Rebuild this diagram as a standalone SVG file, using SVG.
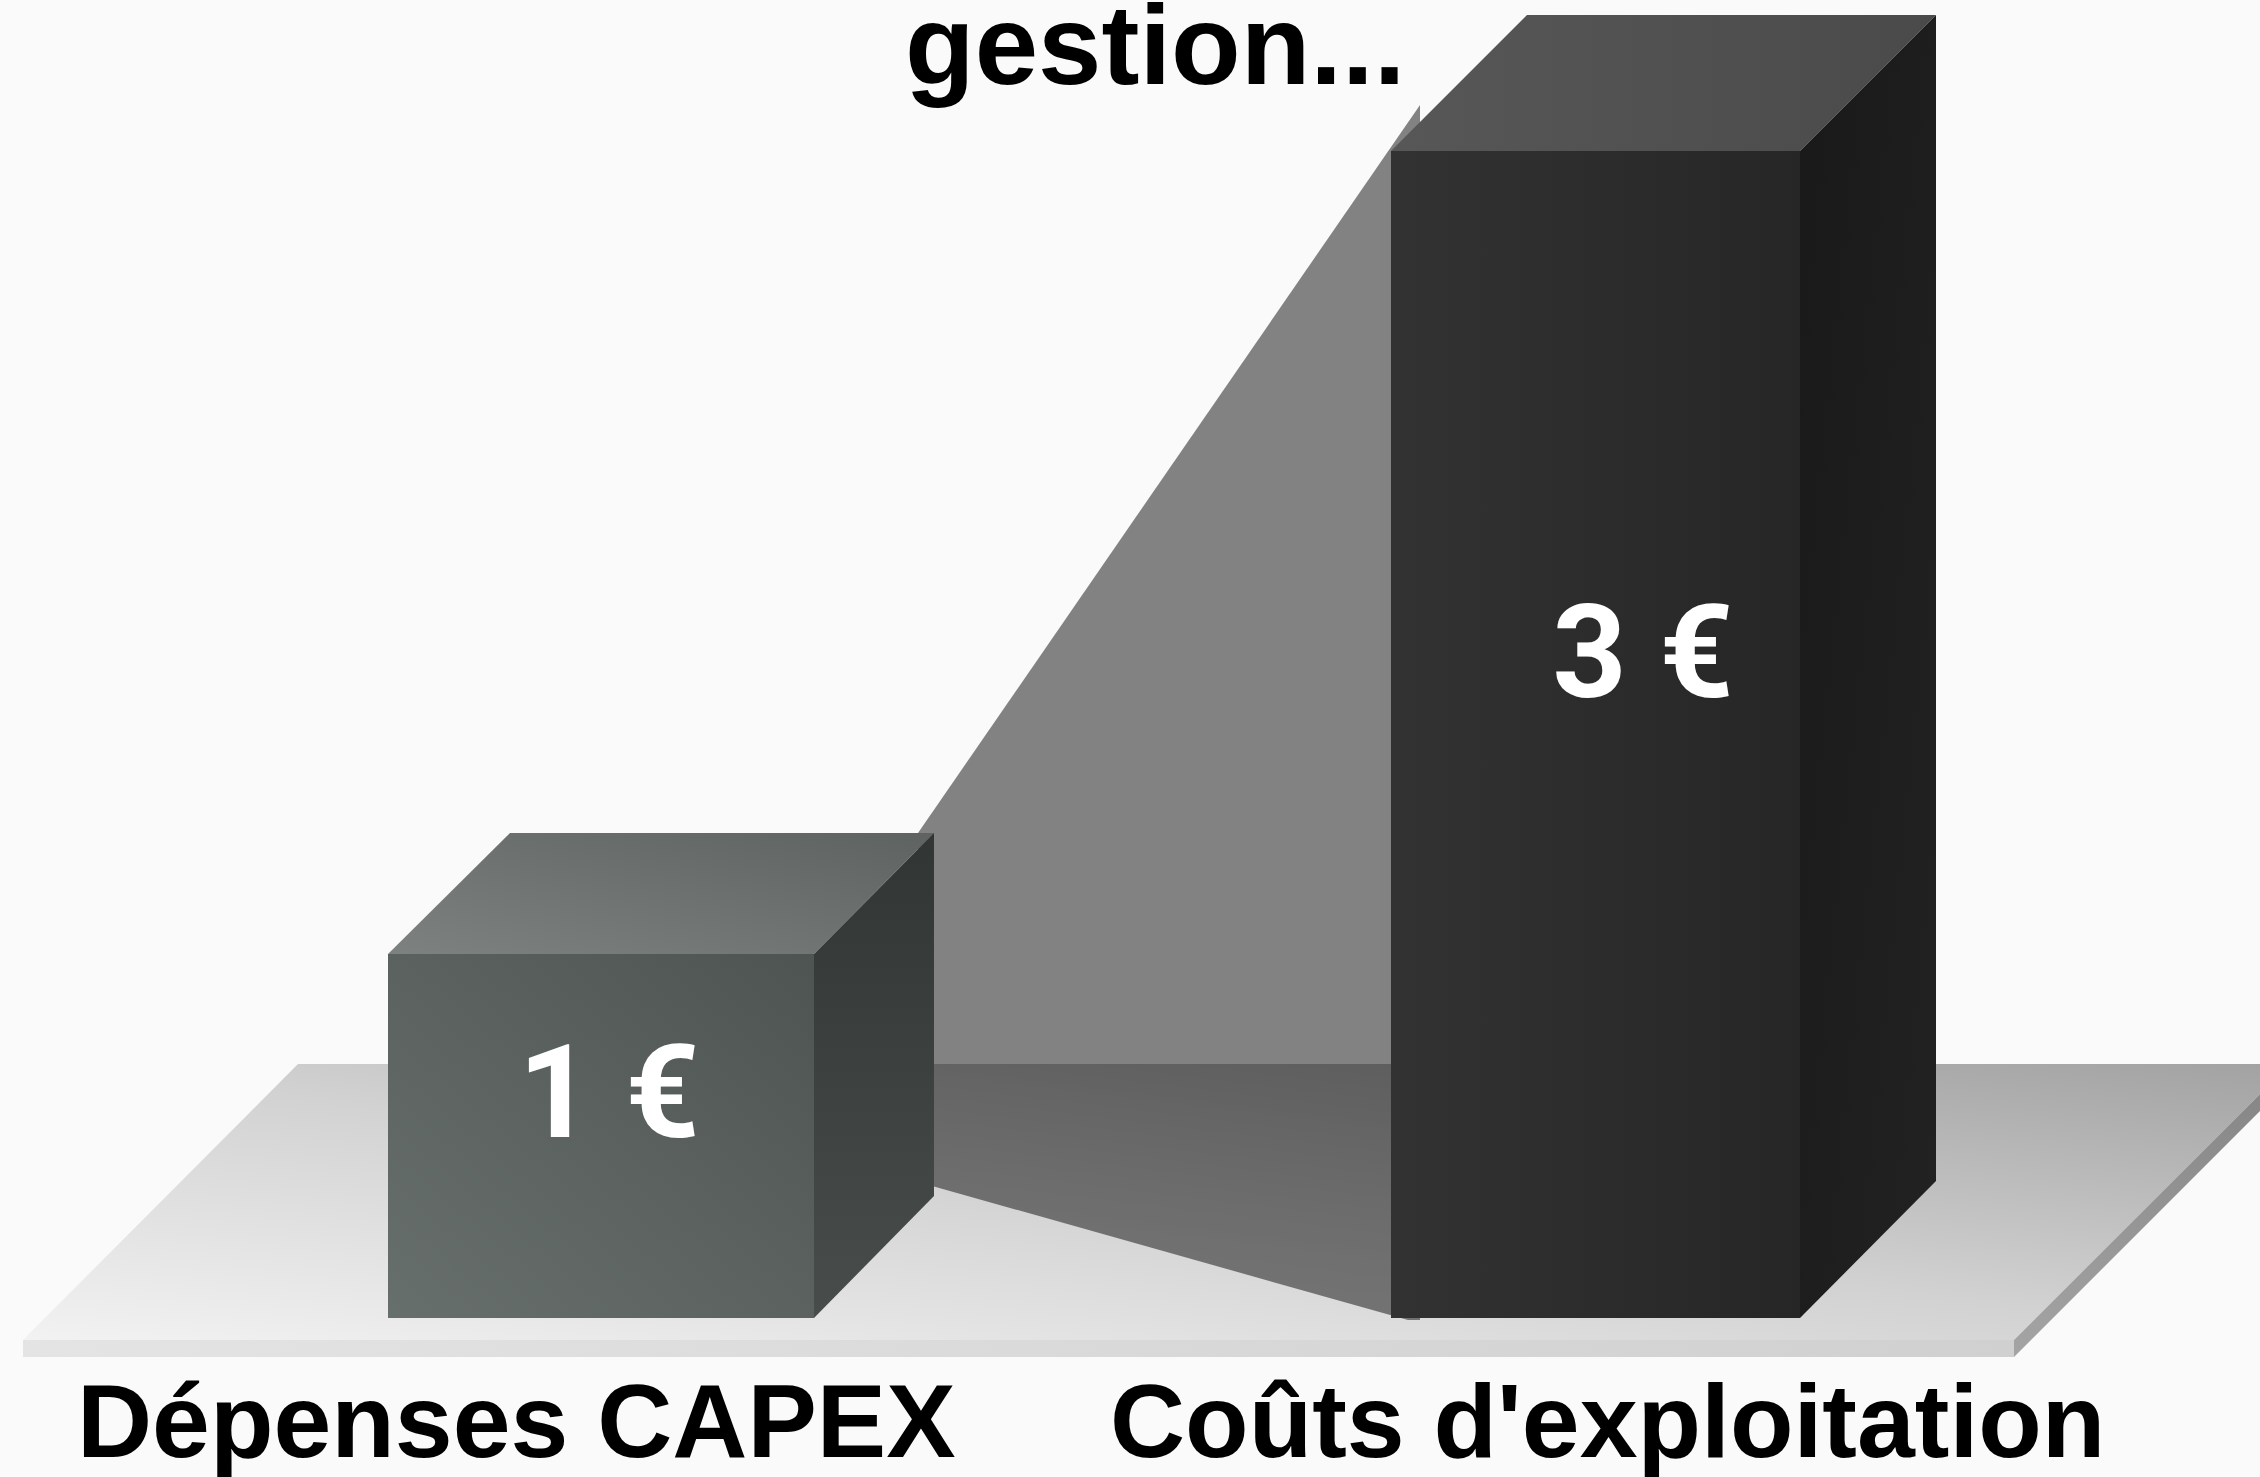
<svg xmlns="http://www.w3.org/2000/svg" width="2260" height="1477" viewBox="0 0 2260 1477">
<defs>
<style>
.lbl{font-family:"Liberation Sans",Arial,sans-serif;font-weight:bold;fill:#000}
.val{font-family:Roboto,"Liberation Sans",Arial,sans-serif;font-weight:bold;fill:#fff;font-size:130px;text-anchor:middle}
</style>
<linearGradient id="gPlat" x1="0" y1="1" x2="1" y2="0">
<stop offset="0" stop-color="#f2f2f2"/>
<stop offset="0.5" stop-color="#d2d2d2"/>
<stop offset="1" stop-color="#a2a2a2"/>
</linearGradient>
<linearGradient id="gFront" x1="0" y1="0" x2="1" y2="0">
<stop offset="0" stop-color="#e4e4e4"/>
<stop offset="1" stop-color="#d0d0d0"/>
</linearGradient>
<linearGradient id="gSide" x1="0" y1="1" x2="1" y2="0">
<stop offset="0" stop-color="#a4a4a4"/>
<stop offset="1" stop-color="#848484"/>
</linearGradient>
<linearGradient id="sTop" x1="0" y1="1" x2="1" y2="0">
<stop offset="0" stop-color="#7d8280"/>
<stop offset="1" stop-color="#5e6260"/>
</linearGradient>
<linearGradient id="sFront" x1="0" y1="1" x2="1" y2="0">
<stop offset="0" stop-color="#676f6c"/>
<stop offset="1" stop-color="#4e5452"/>
</linearGradient>
<linearGradient id="sRight" x1="0" y1="0" x2="0" y2="1">
<stop offset="0" stop-color="#313634"/>
<stop offset="1" stop-color="#484d4b"/>
</linearGradient>
<linearGradient id="bTop" x1="0" y1="0" x2="1" y2="0">
<stop offset="0" stop-color="#575757"/>
<stop offset="1" stop-color="#4a4a4a"/>
</linearGradient>
<linearGradient id="bFront" x1="0" y1="0" x2="1" y2="0">
<stop offset="0" stop-color="#323232"/>
<stop offset="1" stop-color="#262626"/>
</linearGradient>
<linearGradient id="bRight" x1="0" y1="0" x2="1" y2="1">
<stop offset="0" stop-color="#191919"/>
<stop offset="1" stop-color="#222222"/>
</linearGradient>
</defs>
<rect width="2260" height="1477" fill="#fafafa"/>

<g id="platform">
<polygon points="298,1064 2290,1064 2014,1340 23,1340" fill="url(#gPlat)"/>
<rect x="23" y="1340" width="1991" height="17" fill="url(#gFront)"/>
<polygon points="2014,1340 2290,1064 2290,1081 2014,1357" fill="url(#gSide)"/>
</g>

<g id="shadow">
<polygon points="1420,105 918,833 918,1182 1408,1320 1420,1320" fill="#000" fill-opacity="0.48"/>
</g>

<g id="cube-capex">
<polygon points="388,954 510,833 934,833 814,954" fill="url(#sTop)"/>
<polygon points="814,954 934,833 934,1196 814,1318" fill="url(#sRight)"/>
<rect x="388" y="954" width="426" height="364" fill="url(#sFront)"/>
<text class="val" x="609" y="1137">1 €</text>
</g>

<g id="cube-opex">
<polygon points="1391,151 1527,15 1936,15 1800,151" fill="url(#bTop)"/>
<polygon points="1800,151 1936,15 1936,1181 1800,1318" fill="url(#bRight)"/>
<rect x="1391" y="151" width="409" height="1167" fill="url(#bFront)"/>
<text class="val" x="1643" y="697">3 €</text>
</g>

<g id="labels">
<text class="lbl" x="905" y="84" font-size="114">gestion...</text>
<text class="lbl" x="77" y="1457" font-size="104">Dépenses CAPEX</text>
<text class="lbl" x="1110" y="1457" font-size="104">Coûts d'exploitation</text>
</g>
</svg>
